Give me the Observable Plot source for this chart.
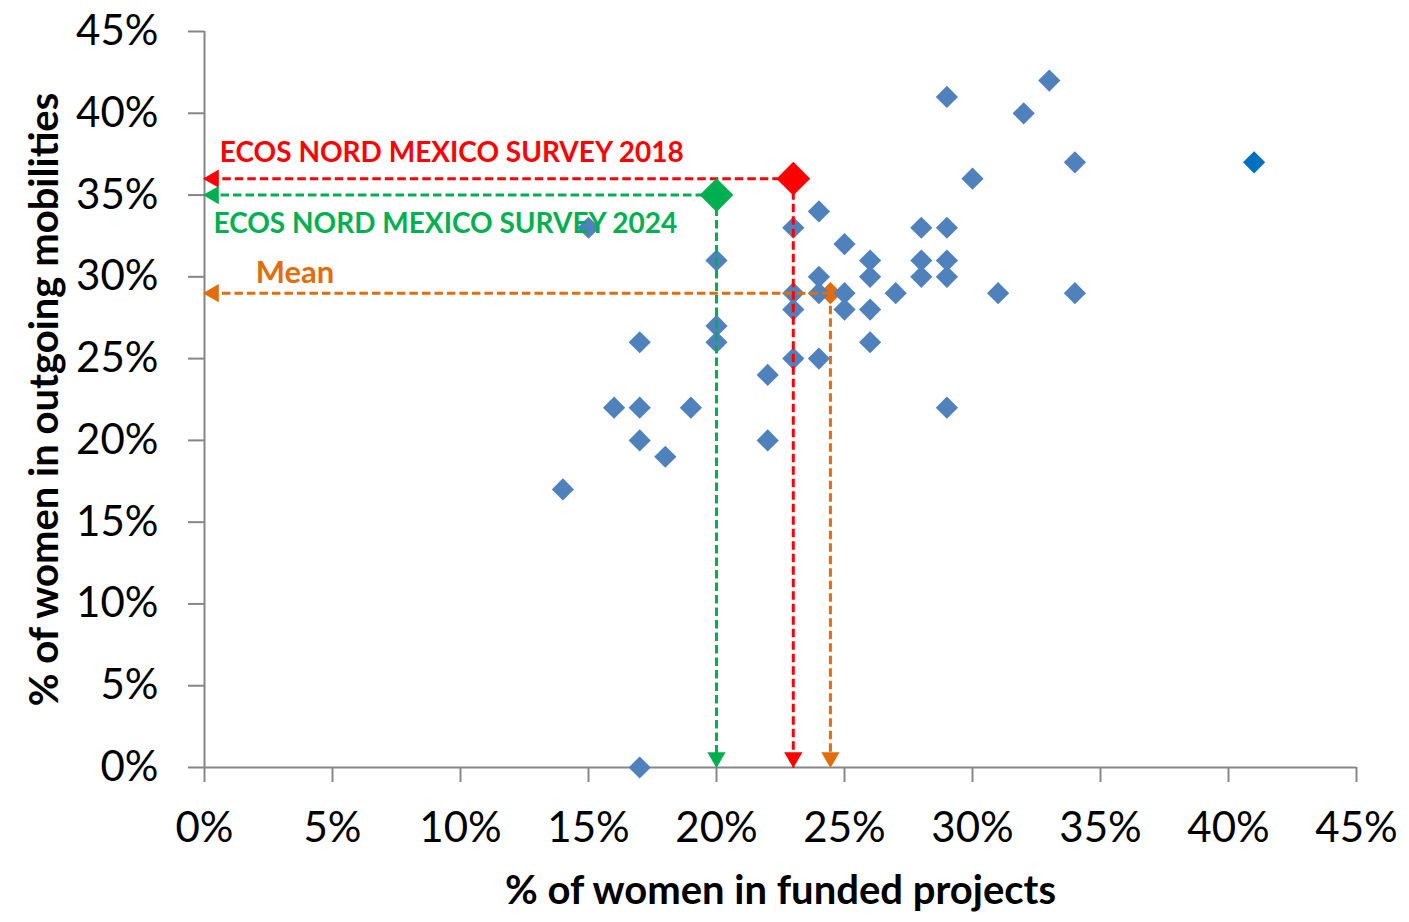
<!DOCTYPE html>
<html><head><meta charset="utf-8">
<script src="https://cdn.jsdelivr.net/npm/d3@7"></script>
<script src="https://cdn.jsdelivr.net/npm/@observablehq/plot@0.6"></script>
<style>body{margin:0;background:#fff}</style>
</head><body><div id="chart"></div>
<script>
// Survey points: % women in funded projects (x) vs % women in outgoing mobilities (y)
const fundedPct = [15,20,20,20,17,16,17,19,17,18,14,17,22,22,23,23,23,23,24,24,24,24,25,25,25,26,26,26,26,27,28,29,28,29,28,29,29,33,32,34,30,31,34,29];
const mobilityPct = [33,31,27,26,26,22,22,22,20,19,17,0,24,20,33,29,28,25,25,34,30,29,32,29,28,31,30,28,26,29,33,33,31,31,30,30,41,42,40,37,36,29,29,22];
const outlierFunded = [41];
const outlierMobility = [37];
// Highlighted references (2018, 2024 survey) and the mean
const refLabels = ["ECOS NORD MEXICO SURVEY 2018", "ECOS NORD MEXICO SURVEY 2024", "Mean"];
const refFunded = [23, 20, 24.45];
const refMobility = [36, 35, 29];
const refColors = ["#FF0000", "#00B050", "#E46C0A"];
const labelFunded = [0.6, 0.35, 2.0];
const labelMobility = [37.55, 33.25, 30.2];
const axisTicks = [0, 5, 10, 15, 20, 25, 30, 35, 40, 45];

const pts = fundedPct.map((x, i) => ({x, y: mobilityPct[i]}));
const outl = outlierFunded.map((x, i) => ({x, y: outlierMobility[i]}));
const refs = refLabels.map((label, i) => ({label, x: refFunded[i], y: refMobility[i], color: refColors[i], lx: labelFunded[i], ly: labelMobility[i]}));
const surveys = refs.slice(0, 2);
const mean = refs.slice(2);

const font = "Lato, 'Open Sans', sans-serif";
const dash = "8.5,4";

const chart = Plot.plot({
  width: 1409, height: 922,
  marginLeft: 204, marginRight: 53, marginTop: 31, marginBottom: 155,
  x: {domain: [0, 45]},
  y: {domain: [0, 45]},
  color: {type: "identity"},
  style: {fontFamily: font, background: "white", overflow: "visible"},
  marks: [
    Plot.ruleX([0], {stroke: "#868686", strokeWidth: 2}),
    Plot.ruleY([0], {stroke: "#868686", strokeWidth: 2}),
    Plot.axisX({ticks: axisTicks, tickFormat: d => d + "%", tickSize: 15, tickPadding: 30, fontSize: 42, stroke: "#868686", strokeWidth: 2, fill: "#000", label: null}),
    Plot.axisY({ticks: axisTicks, tickFormat: d => d + "%", tickSize: 16, tickPadding: 30, fontSize: 42, stroke: "#868686", strokeWidth: 2, fill: "#000", label: null}),
    Plot.dot(mean, {x: "x", y: "y", symbol: "diamond2", r: 10, fill: "color", stroke: null}),
    Plot.dot(pts, {x: "x", y: "y", symbol: "diamond2", r: 10, fill: "#4F81BD"}),
    Plot.dot(outl, {x: "x", y: "y", symbol: "diamond2", r: 10, fill: "#0070C0"}),
    Plot.link(refs, {x1: "x", y1: "y", x2: 0, y2: "y", stroke: "color", strokeWidth: 3, strokeDasharray: dash}),
    Plot.link(refs, {x1: "x", y1: "y", x2: "x", y2: 0, stroke: "color", strokeWidth: 3, strokeDasharray: dash}),
    Plot.dot(refs, {x: 0, y: "y", symbol: "triangle", r: 6.8, rotate: -90, dx: 9, fill: "color"}),
    Plot.dot(refs, {x: "x", y: 0, symbol: "triangle", r: 6.8, rotate: 180, dy: -10, fill: "color"}),
    Plot.dot(surveys, {x: "x", y: "y", symbol: "diamond2", r: 15.2, fill: "color"}),
    Plot.text(surveys, {x: "lx", y: "ly", text: "label", fill: "color", textAnchor: "start", fontSize: 28, fontWeight: "bold"}),
    Plot.text(mean, {x: "lx", y: "ly", text: "label", fill: "color", textAnchor: "start", fontSize: 31, fontWeight: "bold"}),
    Plot.text(["% of women in funded projects"], {frameAnchor: "bottom", dy: 124, lineAnchor: "middle", fontSize: 40, fontWeight: "bold", fill: "#000"}),
    Plot.text(["% of women in outgoing mobilities"], {frameAnchor: "left", dx: -159, rotate: -90, textAnchor: "middle", lineAnchor: "middle", fontSize: 40, fontWeight: "bold", fill: "#000"})
  ]
});
document.getElementById("chart").append(chart);
</script>
</body></html>
